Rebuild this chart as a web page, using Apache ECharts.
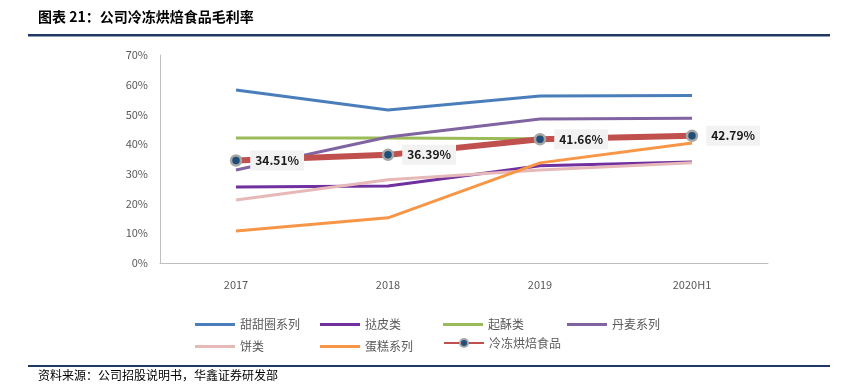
<!DOCTYPE html>
<html><head><meta charset="utf-8">
<script src="https://cdn.jsdelivr.net/npm/echarts@6/dist/echarts.min.js"></script>
<style>html,body{margin:0;padding:0;background:#fff}#c{width:846px;height:384px}</style>
</head><body><div id="c"></div>
<script>
const categories = ['2017', '2018', '2019', '2020H1'];
const yTicks = [0, 10, 20, 30, 40, 50, 60, 70];
const donut = [58.2, 51.5, 56.2, 56.4];
const tart = [25.6, 25.9, 32.7, 34.0];
const puff = [42.1, 42.1, 41.8, null];
const danish = [31.3, 42.4, 48.5, 48.7];
const cookie = [21.2, 28.0, 31.3, 33.7];
const cake = [10.8, 15.2, 33.7, 40.4];
const frozen = [34.51, 36.39, 41.66, 42.79];
const names = ['甜甜圈系列', '挞皮类', '起酥类', '丹麦系列', '饼类', '蛋糕系列', '冷冻烘焙食品'];
const colors = ['#4A7EBB', '#7030A0', '#9BBB59', '#8064A2', '#E6B9B8', '#F79646', '#C0504D'];
const datasets = [donut, tart, puff, danish, cookie, cake, frozen];

const chart = echarts.init(document.getElementById('c'));
const font = 'Noto Sans CJK SC';
const series = datasets.map((d, i) => {
  const isFrozen = i === 6;
  return {
    name: names[i], type: 'line', data: d, z: isFrozen ? 10 : 2,
    symbol: isFrozen ? 'circle' : 'none',
    symbolSize: 10,
    lineStyle: { width: isFrozen ? 6 : 3, color: colors[i] },
    itemStyle: isFrozen ? { color: '#1F4E79', borderColor: '#A6A6A6', borderWidth: 2.5 } : { color: colors[i] },
    label: isFrozen ? {
      show: true, position: 'right', distance: 8,
      formatter: p => p.value.toFixed(2) + '%',
      fontFamily: font, fontSize: 12, fontWeight: 'bold', color: '#1a1a1a',
      backgroundColor: '#F2F2F2', padding: [4, 5, 4, 5]
    } : { show: false },
    emphasis: { disabled: true },
    connectNulls: false
  };
});

const legendCenters = [[195, 320], [320, 320], [443, 320], [567, 320], [195, 342], [320, 342], [443, 342]];
const legends = names.map((n, i) => {
  const isFrozen = i === 6;
  const h = isFrozen ? 10 : 3;
  return {
    data: isFrozen ? [n] : [{ name: n, icon: 'rect' }],
    left: legendCenters[i][0], top: legendCenters[i][1] - h / 2,
    padding: 0,
    itemWidth: 40, itemHeight: h, itemGap: 6,
    textStyle: { fontFamily: font, fontSize: 12, color: '#595959' },
    selectedMode: false
  };
});

chart.setOption({
  animation: false,
  backgroundColor: '#fff',
  grid: { left: 160, right: 78, top: 55, bottom: 121 },
  legend: legends,
  xAxis: {
    type: 'category', data: categories, boundaryGap: true,
    axisLine: { lineStyle: { color: '#BFBFBF', width: 1 } },
    axisTick: { show: false },
    axisLabel: { fontFamily: font, fontSize: 11, color: '#595959', margin: 16 }
  },
  yAxis: {
    type: 'value', min: 0, max: 70, interval: 10,
    axisLine: { show: true, lineStyle: { color: '#BFBFBF', width: 1 } },
    axisTick: { show: false },
    splitLine: { show: false },
    axisLabel: { fontFamily: font, fontSize: 11, color: '#595959', margin: 12, formatter: v => yTicks.includes(v) ? v + '%' : '' }
  },
  series: series,
  graphic: [
    { type: 'text', left: 38, top: 10, style: { text: '图表 21：公司冷冻烘焙食品毛利率', fontFamily: font, fontSize: 14, fontWeight: 'bold', fill: '#000' } },
    { type: 'rect', shape: { x: 28, y: 34, width: 802, height: 2.5 }, style: { fill: '#1F3864' } },
    { type: 'rect', shape: { x: 28, y: 365, width: 802, height: 2 }, style: { fill: '#1F3864' } },
    { type: 'text', left: 38, top: 369, style: { text: '资料来源：公司招股说明书，华鑫证券研发部', fontFamily: font, fontSize: 12, fill: '#000' } }
  ]
});
</script></body></html>
